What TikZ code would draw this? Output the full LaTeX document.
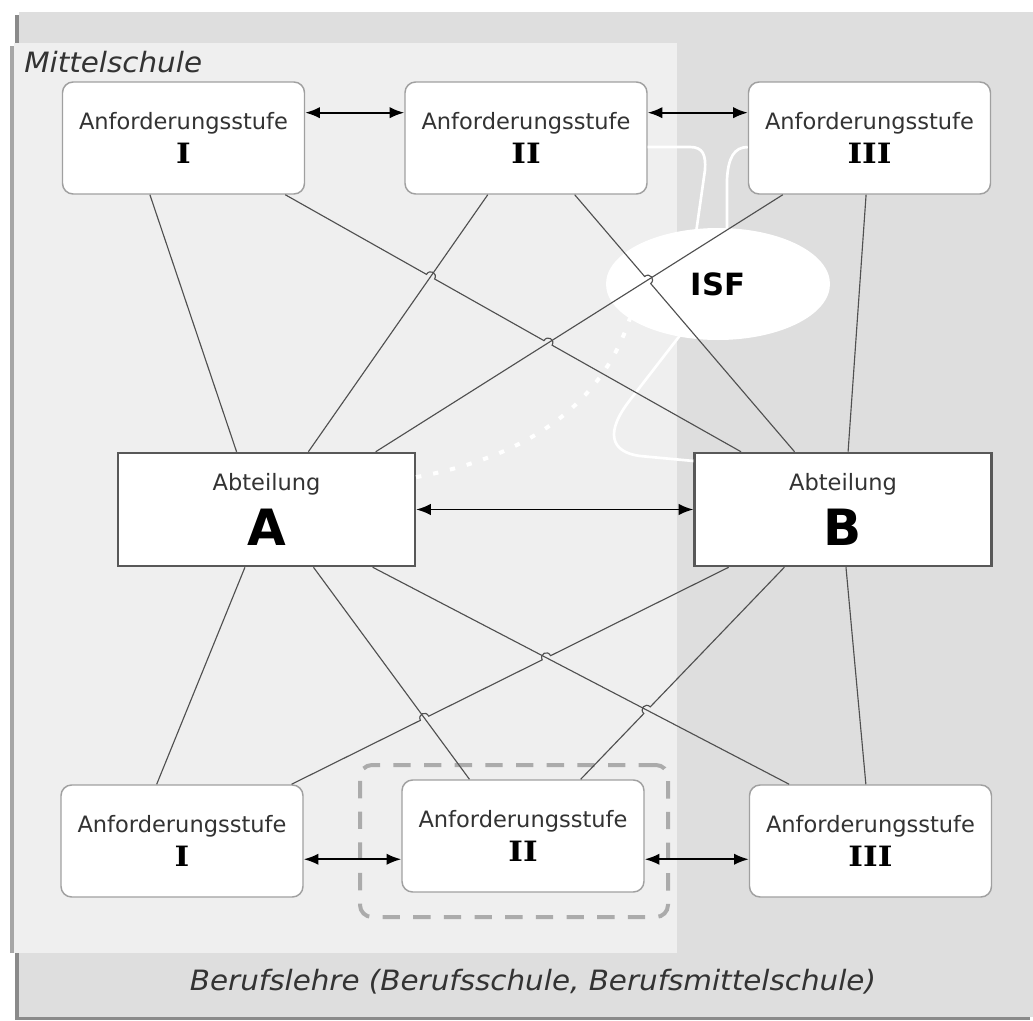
\documentclass[tikz,border=0pt]{standalone}
\usepackage{fontspec}
\setmainfont{DejaVu Sans}
\newfontfamily\numfont{DejaVu Serif}[FakeStretch=1.12]
\newfontfamily\itfont{DejaVu Sans}[FakeStretch=1.05]
\usetikzlibrary{calc,intersections,arrows.meta,shapes.geometric}
\definecolor{bgdark}{HTML}{DEDEDE}
\definecolor{bglight}{HTML}{EFEFEF}
\definecolor{lncol}{HTML}{505050}
\definecolor{boxline}{HTML}{A0A0A0}
\definecolor{abtline}{HTML}{585858}
\definecolor{txt}{HTML}{333333}
\definecolor{dashcol}{HTML}{ABABAB}
\definecolor{shadowcol}{HTML}{8A8A8A}
\newcommand\stufenum[1]{{\color{black}\numfont\bfseries\fontsize{21}{25}\selectfont #1}}
\newcommand\bigletter[1]{{\color{black}\bfseries\fontsize{37.5}{41}\selectfont #1}}
\newcommand\mkhop[5]{%
  \coordinate (#1a) at ($(#1)!3.5pt!(#2)$);
  \coordinate (#1b) at ($(#1)!3.5pt!(#3)$);
  \coordinate (#1c) at ($(#1a)!5pt!#4:(#1)$);
  \coordinate (#1d) at ($(#1b)!5pt!#5:(#1)$);}
\begin{document}
\begin{tikzpicture}[x=0.75pt,y=-0.75pt,
  stufe/.style={draw=boxline, line width=1.1pt, rounded corners=8pt, fill=white,
    minimum width=181.5pt, minimum height=84pt, inner sep=0pt, align=center,
    text=txt, font=\fontsize{16.9}{25}\selectfont},
  abt/.style={draw=abtline, line width=1.9pt, fill=white, minimum width=222.5pt,
    minimum height=84.75pt, inner sep=0pt, align=center, text=txt,
    font=\fontsize{16.9}{41}\selectfont},
  ln/.style={draw=lncol, line width=0.85pt},
  dbl/.style={draw=black, line width=1.4pt,
    {Latex[length=11pt,width=8.5pt]}-{Latex[length=11pt,width=8.5pt]}},
  wl/.style={draw=white, line width=2pt},
  itlabel/.style={inner sep=0pt, text=txt, font=\itfont\itshape\fontsize{21}{25}\selectfont},
]
\useasboundingbox (0,0) rectangle (1033,1021);
% backgrounds
\fill[white] (0,0) rectangle (1033,1021);
\fill[shadowcol] (15,15) rectangle (1030,1020);
\fill[bgdark] (19,12) rectangle (1033,1017);
\fill[black!35] (10,46) rectangle (674,953);
\fill[bglight] (14,43) rectangle (677,953);

\node[itlabel, anchor=base west] (mit) at (24,72) {Mittelschule};
\node[itlabel, anchor=base] (beruf) at (533,990) {Berufslehre (Berufsschule, Berufsmittelschule)};

% dashed group
\node[draw=dashcol, line width=3pt, dash pattern=on 13pt off 10pt, rounded corners=9pt,
  minimum width=231pt, minimum height=114pt] (grp) at (514,841) {};

% nodes
\node[stufe] (t1) at (183.5,138) {Anforderungsstufe\\\stufenum{I}};
\node[stufe] (t2) at (526,138) {Anforderungsstufe\\\stufenum{II}};
\node[stufe] (t3) at (869.5,138) {Anforderungsstufe\\\stufenum{III}};
\node[stufe] (b1) at (182,841) {Anforderungsstufe\\\stufenum{I}};
\node[stufe] (b2) at (523,836) {Anforderungsstufe\\\stufenum{II}};
\node[stufe] (b3) at (870.5,841) {Anforderungsstufe\\\stufenum{III}};
\node[abt] (a) at (266.5,509.5) {Abteilung\\\bigletter{A}};
\node[abt] (b) at (843,509.5) {Abteilung\\\bigletter{B}};

% white ISF connectors (under ellipse)
\draw[wl] ($(t2.north east)!0.58!(t2.south east)$) -- (690,147)
  .. controls (703,147) and (706,155) .. (705,170) -- (695,240);
\draw[wl] ($(t3.north west)!0.58!(t3.south west)$)
  .. controls (734,147) and (728,158) .. (727,180) -- (727,240);
\draw[wl] (688,325) -- (630,400) .. controls (605,432) and (610,452) .. (640,456)
  -- ($(b.north west)!0.08!(b.south west)$);
\draw[draw=white, line width=3pt, dash pattern=on 4pt off 9pt]
  ($(a.north east)!0.22!(a.south east)$) .. controls (520,458) and (600,410) .. (630,318);
\node[ellipse, fill=white, inner sep=0pt, minimum width=168pt, minimum height=84pt,
  font=\bfseries\fontsize{23}{25}\selectfont] (isf) at (718,284) {ISF};

% anchor points for connectors
\coordinate (t1s1) at ($(t1.south west)!0.362!(t1.south east)$);
\coordinate (t1s2) at ($(t1.south west)!0.918!(t1.south east)$);
\coordinate (t2s1) at ($(t2.south west)!0.343!(t2.south east)$);
\coordinate (t2s2) at ($(t2.south west)!0.70!(t2.south east)$);
\coordinate (t3s1) at ($(t3.south west)!0.144!(t3.south east)$);
\coordinate (t3s2) at ($(t3.south west)!0.486!(t3.south east)$);
\coordinate (an1) at ($(a.north west)!0.40!(a.north east)$);
\coordinate (an2) at ($(a.north west)!0.64!(a.north east)$);
\coordinate (an3) at ($(a.north west)!0.865!(a.north east)$);
\coordinate (bn1) at ($(b.north west)!0.159!(b.north east)$);
\coordinate (bn2) at ($(b.north west)!0.338!(b.north east)$);
\coordinate (bn3) at ($(b.north west)!0.517!(b.north east)$);
\coordinate (as1) at ($(a.south west)!0.428!(a.south east)$);
\coordinate (as2) at ($(a.south west)!0.657!(a.south east)$);
\coordinate (as3) at ($(a.south west)!0.855!(a.south east)$);
\coordinate (bs1) at ($(b.south west)!0.118!(b.south east)$);
\coordinate (bs2) at ($(b.south west)!0.304!(b.south east)$);
\coordinate (bs3) at ($(b.south west)!0.51!(b.south east)$);
\coordinate (b1n1) at ($(b1.north west)!0.396!(b1.north east)$);
\coordinate (b1n2) at ($(b1.north west)!0.95!(b1.north east)$);
\coordinate (b2n1) at ($(b2.north west)!0.28!(b2.north east)$);
\coordinate (b2n2) at ($(b2.north west)!0.737!(b2.north east)$);
\coordinate (b3n1) at ($(b3.north west)!0.166!(b3.north east)$);
\coordinate (b3n2) at ($(b3.north west)!0.481!(b3.north east)$);

% named paths for crossings
\path[name path=L2] (t1s2) -- (bn1);
\path[name path=L3] (t2s1) -- (an2);
\path[name path=L4] (t2s2) -- (bn2);
\path[name path=L5] (t3s1) -- (an3);
\path[name path=M2] (as2) -- (b2n1);
\path[name path=M3] (as3) -- (b3n1);
\path[name path=M4] (bs1) -- (b1n2);
\path[name path=M5] (bs2) -- (b2n2);
\path[name intersections={of=L2 and L3, by=x1}];
\path[name intersections={of=L2 and L5, by=x2}];
\path[name intersections={of=L4 and L5, by=x3}];
\path[name intersections={of=M4 and M2, by=x4}];
\path[name intersections={of=M4 and M3, by=x5}];
\path[name intersections={of=M5 and M3, by=x6}];
\mkhop{x1}{t1s2}{bn1}{90}{-90}
\mkhop{x2}{t1s2}{bn1}{90}{-90}
\mkhop{x3}{t2s2}{bn2}{90}{-90}
\mkhop{x4}{bs1}{b1n2}{-90}{90}
\mkhop{x5}{bs1}{b1n2}{-90}{90}
\mkhop{x6}{bs2}{b2n2}{-90}{90}

% straight connectors
\draw[ln] (t1s1) -- (an1);
\draw[ln] (t2s1) -- (an2);
\draw[ln] (t3s1) -- (an3);
\draw[ln] (t3s2) -- (bn3);
\draw[ln] (as1) -- (b1n1);
\draw[ln] (as2) -- (b2n1);
\draw[ln] (as3) -- (b3n1);
\draw[ln] (bs3) -- (b3n2);
% connectors with line jumps
\draw[ln] (t1s2) -- (x1a) .. controls (x1c) and (x1d) .. (x1b)
  -- (x2a) .. controls (x2c) and (x2d) .. (x2b) -- (bn1);
\draw[ln] (t2s2) -- (x3a) .. controls (x3c) and (x3d) .. (x3b) -- (bn2);
\draw[ln] (bs1) -- (x5a) .. controls (x5c) and (x5d) .. (x5b)
  -- (x4a) .. controls (x4c) and (x4d) .. (x4b) -- (b1n2);
\draw[ln] (bs2) -- (x6a) .. controls (x6c) and (x6d) .. (x6b) -- (b2n2);

% double arrows
\draw[dbl] ($(t1.north east)!0.277!(t1.south east)$) -- ($(t2.north west)!0.277!(t2.south west)$);
\draw[dbl] ($(t2.north east)!0.277!(t2.south east)$) -- ($(t3.north west)!0.277!(t3.south west)$);
\draw[dbl] (a.east) -- (b.west);
\coordinate (yb) at ($(b2.north west)!0.705!(b2.south west)$);
\draw[dbl] (b1.east |- yb) -- (yb);
\draw[dbl] ($(b2.north east)!0.705!(b2.south east)$) -- (b3.west |- yb);
\end{tikzpicture}
\end{document}
